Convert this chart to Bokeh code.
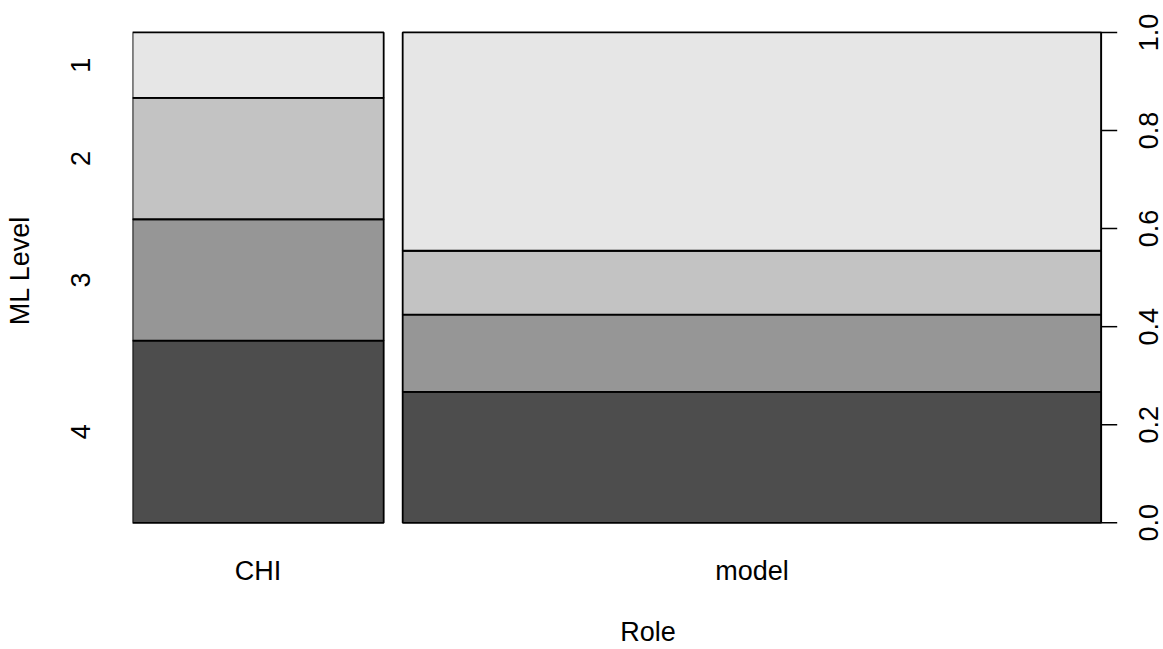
import math
from bokeh.plotting import figure
from bokeh.models import Range1d, FixedTicker
from bokeh.core.properties import value
from bokeh.embed import file_html
from bokeh.resources import INLINE

# Spine plot of ML level by role
roles = ["CHI", "model"]
levels = ["4", "3", "2", "1"]           # bottom to top
counts = {
    "CHI":   [39, 26, 26, 14],
    "model": [78, 46, 38, 130],
}
level_colors = ["#4D4D4D", "#969696", "#C3C3C3", "#E6E6E6"]
right_ticks = [0.0, 0.2, 0.4, 0.6, 0.8, 1.0]
right_labels = ["0.0", "0.2", "0.4", "0.6", "0.8", "1.0"]
x_title = "Role"
y_title = "ML Level"

gap = 0.02
FONT = "Liberation Sans"
FS = "27px"

totals = [sum(counts[r]) for r in roles]
grand = sum(totals)
x_max = 1 + gap * (len(roles) - 1)

# canvas geometry (pixels): plot box spans 132..1100.7 horizontally, 32..523.3 vertically;
# the frame is stretched to the right and top edges so the proportion scale fits inside it
W, H = 1163, 649
box_l, box_r, box_t, box_b = 132, 1100.7, 32, 523.3
frame_b = 541
ppx = (box_r - box_l) / x_max
ppy = (box_b - box_t)
x_rng = Range1d(0, (W - box_l) / ppx)
y_rng = Range1d(-(frame_b - box_b) / ppy, 1 + box_t / ppy)

p = figure(width=W, height=H, x_range=x_rng, y_range=y_rng,
           output_backend="svg", toolbar_location=None,
           min_border_left=box_l, min_border_right=0,
           min_border_top=0, min_border_bottom=H - frame_b,
           outline_line_color=None)
p.grid.visible = False

# build the tiles
lefts, rights, bottoms, tops, fills = [], [], [], [], []
centers = []
x0 = 0.0
for r, tot in zip(roles, totals):
    w = tot / grand
    centers.append(x0 + w / 2)
    y0 = 0.0
    for c, col in zip(counts[r], level_colors):
        h = c / tot
        lefts.append(x0); rights.append(x0 + w)
        bottoms.append(y0); tops.append(y0 + h)
        fills.append(col)
        y0 += h
    x0 += w + gap

p.quad(left=lefts, right=rights, bottom=bottoms, top=tops,
       fill_color=fills, line_color="black", line_width=1.8)

# level label positions: midpoints of the first column
chi_mid = []
acc = 0.0
for c in counts[roles[0]]:
    h = c / totals[0]
    chi_mid.append(acc + h / 2)
    acc += h

# bottom axis: role names
xa = p.xaxis[0]
xa.ticker = FixedTicker(ticks=centers)
xa.major_label_overrides = {c: r for c, r in zip(centers, roles)}
xa.axis_line_color = None
xa.major_tick_line_color = None
xa.minor_tick_line_color = None
xa.major_tick_out = 0
xa.major_tick_in = 0
xa.major_label_standoff = 15
xa.major_label_text_font = FONT
xa.major_label_text_font_size = FS
xa.major_label_text_line_height = 1.0
xa.major_label_text_color = "black"
xa.axis_label = x_title
xa.axis_label_standoff = 28
xa.axis_label_text_font = FONT
xa.axis_label_text_font_size = FS
xa.axis_label_text_line_height = 1.0
xa.axis_label_text_font_style = "normal"
xa.axis_label_text_color = "black"

# left axis: level names
ya = p.yaxis[0]
ya.ticker = FixedTicker(ticks=chi_mid)
ya.major_label_overrides = {m: l for m, l in zip(chi_mid, levels)}
ya.major_label_orientation = "vertical"
ya.axis_line_color = None
ya.major_tick_line_color = None
ya.minor_tick_line_color = None
ya.major_tick_out = 0
ya.major_tick_in = 0
ya.major_label_standoff = 42
ya.major_label_text_font = FONT
ya.major_label_text_font_size = FS
ya.major_label_text_color = "black"
ya.axis_label = y_title
ya.axis_label_standoff = 34
ya.axis_label_text_font = FONT
ya.axis_label_text_font_size = FS
ya.axis_label_text_font_style = "normal"
ya.axis_label_text_color = "black"

# proportion scale on the right of the tiles
p.segment(x0=[x_max], y0=[0], x1=[x_max], y1=[1], line_color="black", line_width=1.5)
p.ray(x=[x_max] * len(right_ticks), y=right_ticks, length=16, length_units="screen",
      angle=0, line_color="black", line_width=1.5)
p.text(x=[x_max] * len(right_ticks), y=right_ticks, text=right_labels,
       x_offset=47, angle=math.pi / 2, text_align="center", text_baseline="middle",
       text_font=value(FONT), text_font_size=value(FS), text_color="black")

open("out.html", "w").write(file_html(p, INLINE))
